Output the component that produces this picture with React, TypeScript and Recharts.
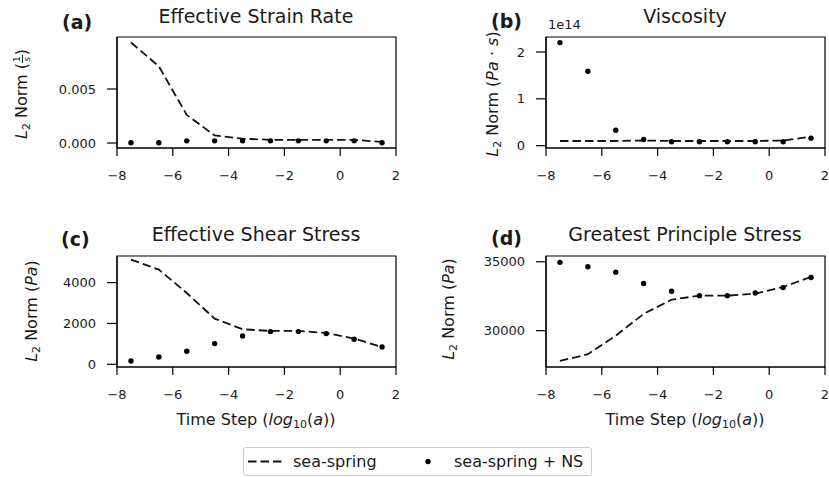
import React from 'react';
import { ComposedChart, Line, Scatter, XAxis, YAxis, ReferenceArea } from 'recharts';

// time step, log10(a)
const timeStep = [-7.5, -6.5, -5.5, -4.5, -3.5, -2.5, -1.5, -0.5, 0.5, 1.5];
const xTicks = [-8, -6, -4, -2, 0, 2];

// (a) effective strain rate
const strainSeaSpring = [0.0093, 0.0071, 0.0026, 0.0007, 0.0004, 0.0003, 0.0003, 0.0003, 0.0003, 0.0001];
const strainNS = [0.00003, 0.00003, 0.0002, 0.0002, 0.0002, 0.0002, 0.0002, 0.0002, 0.0002, 0.00002];
const strainTicks = [0, 0.005];

// (b) viscosity
const viscSeaSpring = [0.1e14, 0.1e14, 0.1e14, 0.11e14, 0.1e14, 0.1e14, 0.1e14, 0.1e14, 0.11e14, 0.19e14];
const viscNS = [2.2e14, 1.59e14, 0.33e14, 0.13e14, 0.085e14, 0.085e14, 0.085e14, 0.085e14, 0.085e14, 0.16e14];
const viscTicks = [0, 1e14, 2e14];

// (c) effective shear stress
const shearSeaSpring = [5126, 4636, 3491, 2237, 1714, 1632, 1632, 1534, 1258, 847];
const shearNS = [162, 357, 636, 1013, 1386, 1600, 1600, 1502, 1224, 847];
const shearTicks = [0, 2000, 4000];

// (d) greatest principle stress
const principalSeaSpring = [27804, 28294, 29634, 31222, 32247, 32540, 32540, 32687, 33170, 33902];
const principalNS = [34956, 34634, 34246, 33418, 32855, 32540, 32540, 32730, 33126, 33858];
const principalTicks = [30000, 35000];

const FONT = '"DejaVu Sans", sans-serif';
const INK = '#1a1a1a';
const DASH = '8.5 4';
const PLOT_W = 279;
const PLOT_H = 111;
const Y_W = 70;
const X_H = 40;
const M_TOP = 5;
const M_RIGHT = 10;

const minus = (s: string) => s.replace('-', '\u2212');

const rows = (ss: number[], ns: number[]) => timeStep.map((x, i) => ({ x, ss: ss[i], ns: ns[i] }));

const Dot = (p: any) => <circle cx={p.cx} cy={p.cy} r={2.7} fill="#000" />;

interface PanelProps {
  left: number;
  top: number;
  data: { x: number; ss: number; ns: number }[];
  domain: [number, number];
  ticks: number[];
  fmt: (v: number) => string;
}

const Panel: React.FC<PanelProps> = ({ left, top, data, domain, ticks, fmt }) => (
  <div style={{ position: 'absolute', left: left - Y_W, top: top - M_TOP }}>
    <ComposedChart
      width={Y_W + PLOT_W + M_RIGHT}
      height={M_TOP + PLOT_H + X_H}
      data={data}
      margin={{ top: M_TOP, right: M_RIGHT, left: 0, bottom: 0 }}
    >
      <XAxis
        type="number"
        dataKey="x"
        domain={[-8, 2]}
        ticks={xTicks}
        interval={0}
        allowDataOverflow
        height={X_H}
        stroke="#000"
        strokeWidth={1.2}
        tickSize={8}
        tickMargin={15}
        tick={{ fill: INK, fontSize: 13, fontFamily: FONT }}
        tickFormatter={(v) => minus(String(v))}
      />
      <YAxis
        type="number"
        domain={domain}
        ticks={ticks}
        interval={0}
        allowDataOverflow
        width={Y_W}
        stroke="#000"
        strokeWidth={1.2}
        tickSize={10}
        tickMargin={11}
        tick={{ fill: INK, fontSize: 13, fontFamily: FONT }}
        tickFormatter={fmt}
      />
      <ReferenceArea x1={-8} x2={2} y1={domain[0]} y2={domain[1]} fill="none" stroke="#000" strokeWidth={1.2} ifOverflow="visible" />
      <Line
        type="linear"
        dataKey="ss"
        stroke="#111"
        strokeWidth={1.8}
        strokeDasharray={DASH}
        dot={false}
        activeDot={false}
        isAnimationActive={false}
      />
      <Scatter dataKey="ns" fill="#000" shape={Dot} isAnimationActive={false} />
    </ComposedChart>
  </div>
);

const Sub: React.FC<{ children: React.ReactNode }> = ({ children }) => (
  <span style={{ fontSize: 11, position: 'relative', top: 3 }}>{children}</span>
);

const YLabel: React.FC<{ cx: number; cy: number; children: React.ReactNode }> = ({ cx, cy, children }) => (
  <div
    style={{
      position: 'absolute',
      left: cx,
      top: cy,
      transform: 'translate(-50%, -50%) rotate(-90deg)',
      whiteSpace: 'nowrap',
      fontSize: 16,
      fontFamily: FONT,
      lineHeight: 'normal',
      color: INK,
    }}
  >
    {children}
  </div>
);

const L2 = () => (
  <>
    <i>L</i>
    <Sub>2</Sub> Norm{' '}
  </>
);

const XLabel: React.FC<{ x: number }> = ({ x }) => (
  <text x={x} y={425} textAnchor="middle" fontSize={16}>
    Time Step (<tspan fontStyle="italic">log</tspan>
    <tspan fontSize={11} dy={3}>10</tspan>
    <tspan dy={-3}>(</tspan>
    <tspan fontStyle="italic">a</tspan>))
  </text>
);

export default function App() {
  return (
    <div
      style={{
        position: 'absolute',
        left: 0,
        top: 0,
        width: 829,
        height: 477,
        overflow: 'hidden',
        background: '#fff',
        fontFamily: FONT,
      }}
    >
      <Panel left={117} top={37} data={rows(strainSeaSpring, strainNS)} domain={[-0.00046, 0.00981]} ticks={strainTicks} fmt={(v) => v.toFixed(3)} />
      <Panel left={546} top={37} data={rows(viscSeaSpring, viscNS)} domain={[-0.05e14, 2.32e14]} ticks={viscTicks} fmt={(v) => (v / 1e14).toFixed(0)} />
      <Panel left={117} top={256} data={rows(shearSeaSpring, shearNS)} domain={[-132, 5302]} ticks={shearTicks} fmt={(v) => String(v)} />
      <Panel left={546} top={256} data={rows(principalSeaSpring, principalNS)} domain={[27365, 35417]} ticks={principalTicks} fmt={(v) => String(v)} />

      <svg width={829} height={477} style={{ position: 'absolute', left: 0, top: 0, pointerEvents: 'none' }} fontFamily={FONT} fill={INK}>
        <text x={256} y={23} textAnchor="middle" fontSize={19}>Effective Strain Rate</text>
        <text x={685} y={23} textAnchor="middle" fontSize={19}>Viscosity</text>
        <text x={256} y={241} textAnchor="middle" fontSize={19}>Effective Shear Stress</text>
        <text x={685} y={241} textAnchor="middle" fontSize={19}>Greatest Principle Stress</text>
        <text x={62} y={29} fontSize={19} fontWeight="bold">(a)</text>
        <text x={491} y={28} fontSize={19} fontWeight="bold">(b)</text>
        <text x={61} y={246} fontSize={19} fontWeight="bold">(c)</text>
        <text x={491} y={245} fontSize={19} fontWeight="bold">(d)</text>
        <text x={548} y={29} fontSize={13}>1e14</text>
        <XLabel x={256} />
        <XLabel x={685} />
      </svg>

      <YLabel cx={22} cy={94}>
        <L2 />(
        <span style={{ display: 'inline-flex', flexDirection: 'column', alignItems: 'center', fontSize: 9, lineHeight: 1, verticalAlign: 'middle' }}>
          <span style={{ borderBottom: `1px solid ${INK}`, padding: '0 1px' }}>1</span>
          <i>s</i>
        </span>
        )
      </YLabel>
      <YLabel cx={492} cy={94}>
        <L2 />(<i>Pa</i> · <i>s</i>)
      </YLabel>
      <YLabel cx={31} cy={311}>
        <L2 />(<i>Pa</i>)
      </YLabel>
      <YLabel cx={448} cy={309}>
        <L2 />(<i>Pa</i>)
      </YLabel>

      <div
        style={{
          position: 'absolute',
          left: 243,
          top: 447,
          width: 349,
          height: 29,
          border: '1px solid #ccc',
          borderRadius: 3,
          boxSizing: 'border-box',
          background: '#fff',
        }}
      >
        <svg width={349} height={29} fontFamily={FONT} style={{ position: 'absolute', left: -1, top: -1 }}>
          <line x1={5} x2={39} y1={14.5} y2={14.5} stroke="#111" strokeWidth={1.8} strokeDasharray={DASH} />
          <text x={50} y={20} fontSize={16} fill={INK}>sea-spring</text>
          <circle cx={185} cy={14.5} r={2.7} fill="#000" />
          <text x={211} y={20} fontSize={16} fill={INK}>sea-spring + NS</text>
        </svg>
      </div>
    </div>
  );
}
